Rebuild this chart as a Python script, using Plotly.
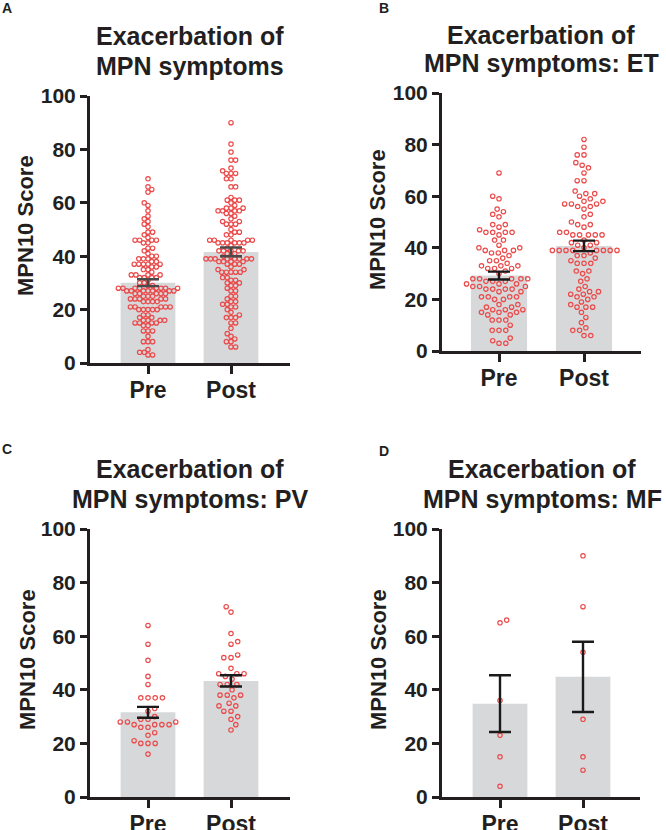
import numpy as np
import plotly.graph_objects as go

W, H = 666, 830
categories = ["Pre", "Post"]
y_tick_values = [0, 20, 40, 60, 80, 100]
y_axis_label = "MPN10 Score"

# ---- data (MPN10 scores) ----
all_pre = [69, 66, 65, 64, 60, 59, 57, 55, 54, 53, 52, 51,
           49, 49, 48, 47, 46, 46, 46, 46, 45, 45, 43, 43, 42, 41,
           40, 40, 39, 39, 39, 38, 38, 37, 37, 37, 37, 37, 36, 36,
           35, 35, 34, 33, 33, 33, 33, 32, 32, 32, 32, 31, 30, 30,
           29, 29, 28, 28, 28, 28, 28, 28, 28, 28, 27, 27, 27, 27, 27, 27, 27,
           26, 26, 26, 26, 26, 25, 25, 25, 24, 24, 24, 24, 24, 23, 23, 23, 23,
           21, 21, 21, 21, 21, 20, 20, 20, 20, 20, 18, 18, 17, 17,
           16, 16, 16, 16, 15, 15, 15, 15, 14, 14, 12, 12, 12, 10, 8, 8, 8,
           5, 4, 4, 3, 3]
all_post = [90, 82, 79, 76, 76, 73, 72, 71, 71, 71, 69, 69, 66, 66, 62, 61, 61, 61, 60, 59,
            58, 58, 58, 57, 57, 57, 57, 56, 56, 55, 54, 53, 53, 52, 52, 52, 50, 49, 49, 48, 48,
            46, 46, 46, 46, 46, 45, 45, 45, 45, 45, 45, 44, 43, 42, 42, 42, 42, 42, 41, 41, 40, 40,
            39, 39, 39, 39, 39, 39, 39, 39, 38, 38, 38, 38, 37, 37, 37, 36, 35, 35,
            34, 34, 34, 34, 34, 32, 32, 31, 31, 30, 30, 29, 29, 28, 27, 27, 25, 25, 24,
            23, 23, 22, 22, 21, 21, 20, 19, 18, 17, 17, 17, 15, 15, 13, 11, 10, 9, 8, 8, 6, 6]

et_pre = [69, 60, 59, 55, 54, 53, 52, 49, 49, 48, 47, 46, 46, 46, 46, 45, 43, 43, 41,
          40, 40, 39, 39, 39, 38, 38, 37, 36, 35, 35, 34, 33, 33, 33, 32, 32, 32, 31, 30,
          28, 28, 28, 28, 28, 27, 27, 27, 26, 26, 26, 25, 25, 25, 24, 24, 24, 24, 23, 23,
          21, 21, 21, 21, 20, 20, 18, 18, 17, 17, 16, 16, 16, 15, 15, 15, 14, 14, 12, 12, 12,
          10, 8, 8, 8, 5, 4, 3, 3]
et_post = [82, 79, 76, 76, 73, 72, 71, 69, 66, 66, 62, 61, 61, 60, 59, 58, 58, 57, 57, 57,
           56, 56, 55, 53, 52, 50, 49, 49, 48, 46, 46, 45, 45, 45, 45, 45, 43, 42, 42, 41, 41, 40,
           39, 39, 39, 39, 39, 39, 39, 39, 38, 37, 37, 36, 35, 34, 34, 34, 31, 31, 30,
           28, 27, 25, 24, 23, 23, 22, 22, 21, 21, 20, 19, 18, 17, 17, 17, 15, 13, 11, 9, 8, 8, 6, 6]

pv_pre = [64, 57, 51, 45, 42, 37, 37, 37, 37, 33, 32, 30, 29, 29, 28, 28, 28,
          27, 27, 27, 27, 26, 26, 24, 23, 21, 20, 20, 20, 16]
pv_post = [71, 69, 61, 58, 57, 53, 52, 52, 48, 46, 46, 46, 45, 44, 42, 42, 42, 40,
           38, 38, 38, 37, 35, 34, 34, 32, 32, 30, 29, 27, 25]

mf_pre = [66, 65, 36, 23, 15, 4]
mf_post = [90, 71, 54, 29, 15, 10]

# ---- styling ----
FONT = "Liberation Sans, Arial, Helvetica, sans-serif"
INK = "#231f20"
BAR_COLOR = "#d6d8da"
DOT_COLOR = "#ec4a4a"

panels = [
    dict(letter="A", title=("Exacerbation of", "MPN symptoms"), pre=all_pre, post=all_post,
         ax_left=90, ax_right=290, y0=363, y100=96, cat_px=(148, 231), diam=4.6,
         err_color="#4a4a4a", title_x=190, title_y=(36, 66), letter_xy=(7, 8), ylab_xy=(26, 226)),
    dict(letter="B", title=("Exacerbation of", "MPN symptoms: ET"), pre=et_pre, post=et_post,
         ax_left=442, ax_right=641, y0=351, y100=93, cat_px=(499, 584), diam=6.8,
         err_color="#1a1a1a", title_x=541, title_y=(34.5, 63.5), letter_xy=(384, 8), ylab_xy=(378, 220)),
    dict(letter="C", title=("Exacerbation of", "MPN symptoms: PV"), pre=pv_pre, post=pv_post,
         ax_left=90, ax_right=290, y0=797, y100=529, cat_px=(148, 231), diam=7.2,
         err_color="#1a1a1a", title_x=190, title_y=(468.5, 498.5), letter_xy=(7, 449), ylab_xy=(27, 660)),
    dict(letter="D", title=("Exacerbation of", "MPN symptoms: MF"), pre=mf_pre, post=mf_post,
         ax_left=442, ax_right=640, y0=797, y100=529, cat_px=(500, 583), diam=7.2,
         err_color="#1a1a1a", title_x=542, title_y=(468.5, 498.5), letter_xy=(384, 451), ylab_xy=(378, 660)),
]


def beeswarm(values, px_per_unit, diam):
    """Horizontal pixel offsets so that circles of diameter `diam` do not overlap."""
    vals = np.asarray(values, dtype=float)
    order = np.argsort(vals, kind="stable")
    placed = []
    xs = np.zeros(len(vals))
    side = 1
    for i in order:
        y = vals[i] * px_per_unit
        intervals = []
        for px, py in placed:
            dy = abs(py - y)
            if dy < diam:
                w = np.sqrt(diam ** 2 - dy ** 2)
                intervals.append((px - w, px + w))
        cands = [0.0] + [a for a, _ in intervals] + [b for _, b in intervals]
        valid = [c for c in cands
                 if all(not (a + 1e-9 < c < b - 1e-9) for a, b in intervals)]
        best = min(abs(c) for c in valid)
        choices = [c for c in valid if abs(abs(c) - best) < 1e-6]
        if len(choices) > 1:
            c = max(choices) if side > 0 else min(choices)
            side = -side
        else:
            c = choices[0]
        xs[i] = c
        placed.append((c, y))
    return xs


fig = go.Figure()
layout_axes = {}
annotations = []

for k, p in enumerate(panels, start=1):
    xa = "x" if k == 1 else f"x{k}"
    ya = "y" if k == 1 else f"y{k}"
    px_per_cat = p["cat_px"][1] - p["cat_px"][0]
    px_per_unit = (p["y0"] - p["y100"]) / 100.0
    groups = [p["pre"], p["post"]]
    means = [float(np.mean(g)) for g in groups]
    sems = [float(np.std(g, ddof=1) / np.sqrt(len(g))) for g in groups]

    fig.add_trace(go.Bar(x=[0, 1], y=means, width=0.66, marker=dict(color=BAR_COLOR, line=dict(width=0)),
                         xaxis=xa, yaxis=ya, showlegend=False, hoverinfo="skip"))
    for gi, g in enumerate(groups):
        off = beeswarm(g, px_per_unit, p["diam"])
        fig.add_trace(go.Scatter(
            x=gi + off / px_per_cat, y=g, mode="markers", xaxis=xa, yaxis=ya, showlegend=False,
            marker=dict(symbol="circle-open", size=4.4, color=DOT_COLOR, line=dict(width=1.2, color=DOT_COLOR)),
        ))
    fig.add_trace(go.Scatter(
        x=[0, 1], y=means, mode="markers", xaxis=xa, yaxis=ya, showlegend=False,
        marker=dict(size=1, color="rgba(0,0,0,0)"),
        error_y=dict(type="data", array=sems, visible=True, thickness=2.4, width=11, color=p["err_color"]),
    ))

    x_range = [(p["ax_left"] - p["cat_px"][0]) / px_per_cat,
               1 + (p["ax_right"] - p["cat_px"][1]) / px_per_cat]
    axis_key_x = "xaxis" if k == 1 else f"xaxis{k}"
    axis_key_y = "yaxis" if k == 1 else f"yaxis{k}"
    layout_axes[axis_key_x] = dict(
        domain=[p["ax_left"] / W, p["ax_right"] / W], anchor=ya, range=x_range, automargin=False,
        tickmode="array", tickvals=[0, 1], ticktext=categories,
        showline=True, linecolor=INK, linewidth=3, ticks="outside", ticklen=8, tickwidth=3, tickcolor=INK,
        ticklabelstandoff=-4,
        showgrid=False, zeroline=False, fixedrange=True,
        tickfont=dict(family=FONT, size=23, color=INK, weight="bold"),
    )
    layout_axes[axis_key_y] = dict(
        domain=[1 - p["y0"] / H, 1 - p["y100"] / H], anchor=xa, range=[0, 100], automargin=False,
        tickmode="array", tickvals=y_tick_values,
        showline=True, linecolor=INK, linewidth=3, ticks="outside", ticklen=7, tickwidth=3, tickcolor=INK,
        showgrid=False, zeroline=False, fixedrange=True,
        tickfont=dict(family=FONT, size=21, color=INK, weight="bold"),
    )

    for line, ty in zip(p["title"], p["title_y"]):
        annotations.append(dict(text=line, xref="paper", yref="paper", x=p["title_x"] / W, y=1 - ty / H,
                                xanchor="center", yanchor="middle", showarrow=False,
                                font=dict(family=FONT, size=25, color=INK, weight="bold")))
    annotations.append(dict(text=p["letter"], xref="paper", yref="paper",
                            x=p["letter_xy"][0] / W, y=1 - p["letter_xy"][1] / H,
                            xanchor="center", yanchor="middle", showarrow=False,
                            font=dict(family=FONT, size=14, color=INK, weight="bold")))
    annotations.append(dict(text=y_axis_label, xref="paper", yref="paper",
                            x=p["ylab_xy"][0] / W, y=1 - p["ylab_xy"][1] / H, textangle=-90,
                            xanchor="center", yanchor="middle", showarrow=False,
                            font=dict(family=FONT, size=22, color=INK, weight="bold")))

fig.update_layout(
    width=W, height=H, margin=dict(l=0, r=0, t=0, b=0, pad=0, autoexpand=False),
    paper_bgcolor="white", plot_bgcolor="white",
    annotations=annotations, **layout_axes,
)

fig.write_html("out.html", config={"displayModeBar": False},
               post_script="document.body.style.margin='0px';")
